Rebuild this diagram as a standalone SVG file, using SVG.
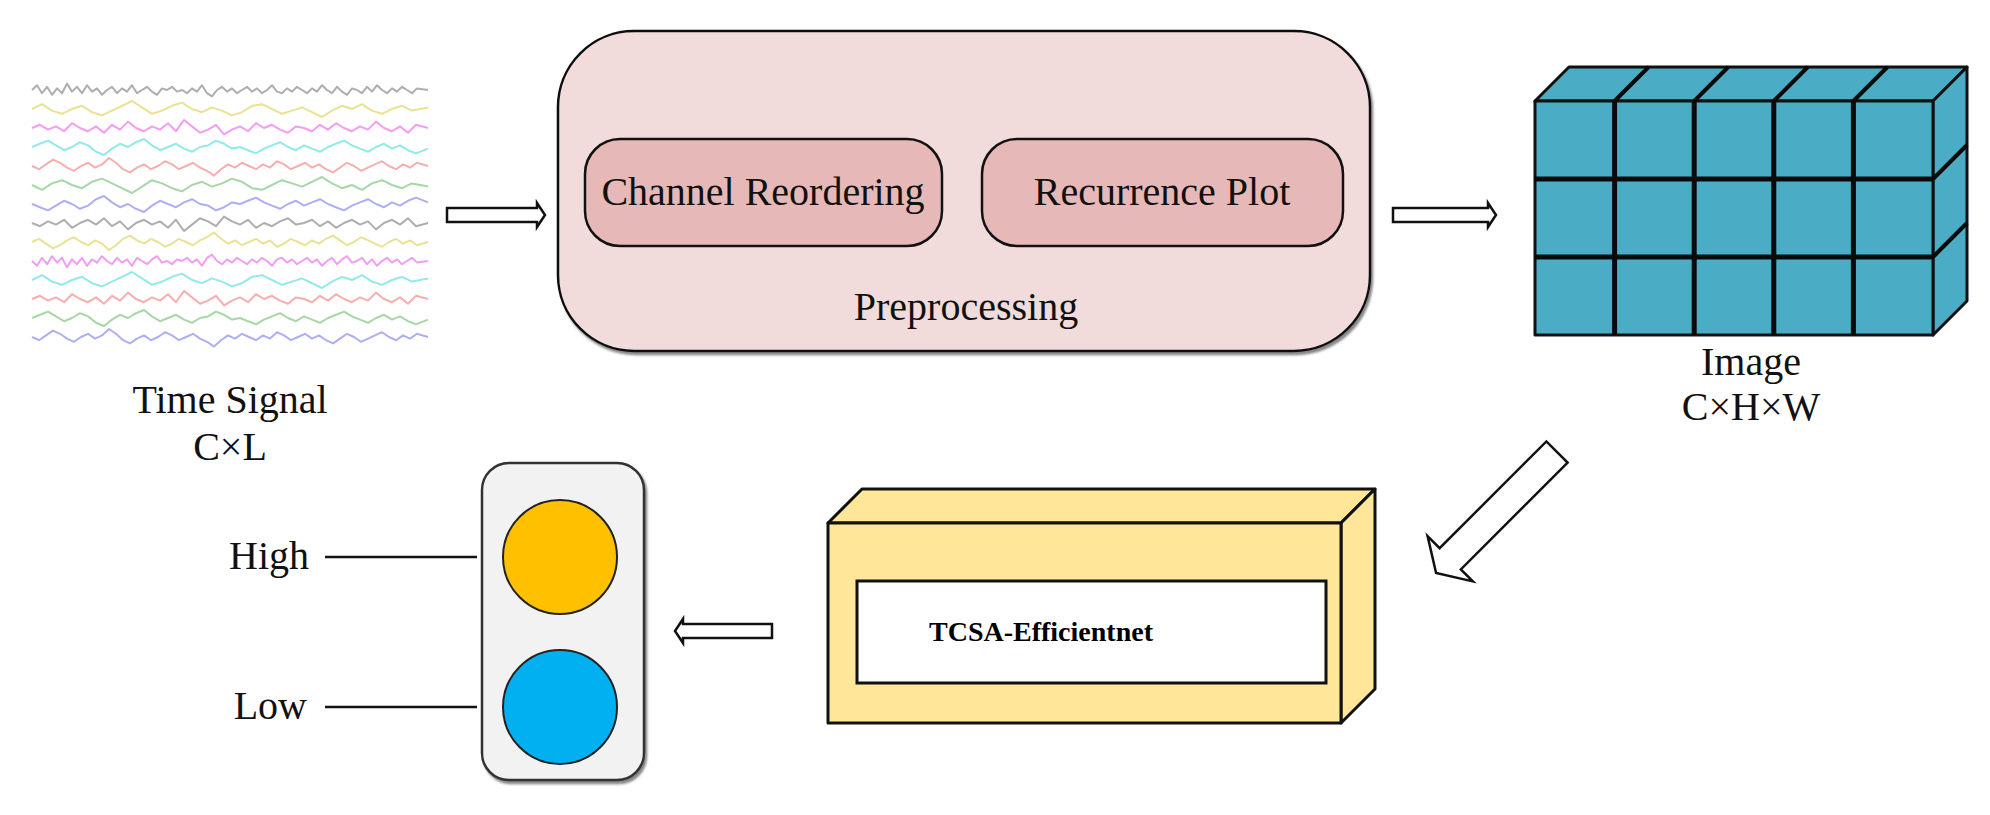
<svg xmlns="http://www.w3.org/2000/svg" xmlns:xlink="http://www.w3.org/1999/xlink" width="1990" height="815" viewBox="0 0 1990 815">
<defs>
<style>
.t{font-family:"Liberation Serif","Times New Roman","DejaVu Serif",serif;font-size:40px;fill:#111;text-anchor:middle}
.tb{font-family:"Liberation Serif","Times New Roman","DejaVu Serif",serif;font-size:28px;font-weight:bold;fill:#000;text-anchor:middle}
.w{fill:none;stroke-width:2;stroke-linejoin:round;opacity:0.85}
.arr{fill:#fff;stroke:#111;stroke-width:2.5;stroke-linejoin:miter}
.cube{fill:#4bacc6;stroke:#111;stroke-width:3;stroke-linejoin:round}
.grid{stroke:#0a0a0a;stroke-width:5}
.gridt{stroke:#0a0a0a;stroke-width:4}
.yb{fill:#ffe699;stroke:#111;stroke-width:3;stroke-linejoin:round}
.ln{stroke:#111;stroke-width:2.5}
</style>
<filter id="sh" x="-5%" y="-5%" width="115%" height="115%">
<feDropShadow dx="2" dy="3" stdDeviation="1.2" flood-color="#555" flood-opacity="0.7"/>
</filter>
<polyline id="w1" vector-effect="non-scaling-stroke" points="0,0 8,-2 16,1 24,-1 32,2 40,-3 48,0 56,2 64,-1 72,3 80,-2 88,1 96,-4 104,0 112,2 120,-1 128,1 136,-3 144,2 152,-5 160,-1 168,3 176,1 184,-2 192,4 200,1 208,-1 216,2 224,-3 232,0 240,-2 248,1 256,3 264,-1 272,0 280,2 288,-2 296,1 304,-3 312,0 320,2 328,-1 336,1 344,-4 352,0 360,2 368,-1 376,3 384,-2 396,0"/>
<polyline id="w2" vector-effect="non-scaling-stroke" points="0,0 10,-3 20,1 30,3 40,0 50,-2 60,2 70,4 80,1 90,-2 100,-5 110,-1 120,3 130,1 140,-2 150,-4 160,0 170,2 180,-1 190,1 200,4 210,2 220,-2 230,-3 240,0 250,3 260,1 270,-1 280,2 290,5 300,1 310,-2 320,0 330,-3 340,1 350,3 360,0 370,-2 380,1 396,-1"/>
<polyline id="w3" vector-effect="non-scaling-stroke" points="0,0 5,-3 10,2 15,-2 20,3 25,-1 30,2 35,-4 40,1 45,-2 50,2 55,-3 60,1 65,-1 70,3 75,0 80,-2 85,2 90,-1 95,1 100,-3 105,2 110,0 115,-2 120,1 125,3 130,-1 135,0 140,-2 145,1 150,0 155,2 160,-1 165,1 170,-3 175,2 180,4 185,0 190,-2 195,1 200,-1 205,2 210,0 215,-2 220,1 225,-1 230,2 235,0 240,-3 245,1 250,2 255,-1 260,1 265,-2 270,0 275,2 280,-1 285,1 290,-3 295,0 300,2 305,-2 310,1 315,3 320,-1 325,0 330,2 335,-2 340,1 345,-3 350,0 355,2 360,-1 365,1 370,-2 375,0 380,2 385,-1 396,0"/>
<polyline id="w4" vector-effect="non-scaling-stroke" points="0,0 8,-2 16,-4 24,-1 32,2 40,0 48,-3 56,-1 64,3 72,5 80,1 88,-2 96,0 104,-3 112,-5 120,-1 128,2 136,0 144,-2 152,1 160,3 168,0 176,-1 184,-4 192,-2 200,1 208,0 216,2 224,4 232,1 240,-1 248,-3 256,0 264,2 272,-1 280,1 288,3 296,0 304,-2 312,-4 320,-1 328,1 336,3 344,0 352,-2 360,1 368,-1 376,2 384,4 396,1"/>
<polyline id="w5" vector-effect="non-scaling-stroke" points="0,0 7,2 14,-1 21,-4 28,-2 35,1 42,3 49,0 56,-2 63,1 70,-1 77,-5 84,-2 91,2 98,4 105,1 112,-1 119,2 126,0 133,-3 140,-1 147,2 154,0 161,-2 168,1 175,3 182,6 189,2 196,-1 203,1 210,-2 217,0 224,2 231,-1 238,1 245,-3 252,-1 259,2 266,0 273,-2 280,1 287,-1 294,2 301,4 308,1 315,-2 322,0 329,3 336,1 343,-1 350,-3 357,0 364,2 371,-1 378,1 385,-2 396,0"/>
</defs>
<rect width="1990" height="815" fill="#fff"/>

<g id="time-signal">
<use xlink:href="#w3" href="#w3" class="w" stroke="#a0a0a0" transform="translate(32,90) scale(1,1.6)"/>
<use xlink:href="#w2" href="#w2" class="w" stroke="#e6dd80" transform="translate(32,109) scale(1,1.6)"/>
<use xlink:href="#w1" href="#w1" class="w" stroke="#f08cf0" transform="translate(32,128) scale(1,1.6)"/>
<use xlink:href="#w4" href="#w4" class="w" stroke="#80e6e6" transform="translate(32,147) scale(1,1.6)"/>
<use xlink:href="#w5" href="#w5" class="w" stroke="#f5a0a0" transform="translate(32,166) scale(1,1.6)"/>
<use xlink:href="#w2" href="#w2" class="w" stroke="#98d098" transform="translate(32,185) scale(1,-1.6)"/>
<use xlink:href="#w4" href="#w4" class="w" stroke="#a0a0f0" transform="translate(32,204) scale(1,-1.6)"/>
<use xlink:href="#w1" href="#w1" class="w" stroke="#a0a0a0" transform="translate(32,223) scale(1,-1.6)"/>
<use xlink:href="#w5" href="#w5" class="w" stroke="#e6dd80" transform="translate(32,242) scale(1,-1.6)"/>
<use xlink:href="#w3" href="#w3" class="w" stroke="#f08cf0" transform="translate(32,261) scale(1,-1.6)"/>
<use xlink:href="#w2" href="#w2" class="w" stroke="#80e6e6" transform="translate(32,280) scale(1,1.6)"/>
<use xlink:href="#w1" href="#w1" class="w" stroke="#f5a0a0" transform="translate(32,299) scale(1,1.6)"/>
<use xlink:href="#w4" href="#w4" class="w" stroke="#98d098" transform="translate(32,318) scale(1,1.6)"/>
<use xlink:href="#w5" href="#w5" class="w" stroke="#a0a0f0" transform="translate(32,337) scale(1,1.6)"/>
<text class="t" x="230" y="413">Time Signal</text>
<text class="t" x="230" y="460">C×L</text>
</g>

<g id="preprocessing">
<rect x="558" y="31" width="812" height="320" rx="76" ry="76" fill="#f2dcdb" stroke="#111" stroke-width="2.5" filter="url(#sh)"/>
<rect x="585" y="139" width="357" height="107" rx="35" ry="35" fill="#e6b9b8" stroke="#111" stroke-width="2.5"/>
<text class="t" x="763" y="205">Channel Reordering</text>
<rect x="982" y="139" width="361" height="107" rx="35" ry="35" fill="#e6b9b8" stroke="#111" stroke-width="2.5"/>
<text class="t" x="1162" y="205">Recurrence Plot</text>
<text class="t" x="966" y="320">Preprocessing</text>
</g>

<g id="image-cube">
<polygon class="cube" points="1535,101 1569,67 1967,67 1933,101"/>
<polygon class="cube" points="1933,101 1967,67 1967,301 1933,335"/>
<rect class="cube" x="1535" y="101" width="398" height="234"/>
<g class="grid">
<line x1="1614.6" y1="101" x2="1614.6" y2="335"/>
<line x1="1694.2" y1="101" x2="1694.2" y2="335"/>
<line x1="1773.8" y1="101" x2="1773.8" y2="335"/>
<line x1="1853.4" y1="101" x2="1853.4" y2="335"/>
<line x1="1535" y1="179" x2="1933" y2="179"/>
<line x1="1535" y1="257" x2="1933" y2="257"/>
</g>
<g class="gridt">
<line x1="1614.6" y1="101" x2="1648.6" y2="67"/>
<line x1="1694.2" y1="101" x2="1728.2" y2="67"/>
<line x1="1773.8" y1="101" x2="1807.8" y2="67"/>
<line x1="1853.4" y1="101" x2="1887.4" y2="67"/>
<line x1="1933" y1="179" x2="1967" y2="145"/>
<line x1="1933" y1="257" x2="1967" y2="223"/>
</g>
<text class="t" x="1751" y="375">Image</text>
<text class="t" x="1751" y="420">C×H×W</text>
</g>

<g id="tcsa-efficientnet">
<polygon class="yb" points="828,523 862,489 1375,489 1341,523"/>
<polygon class="yb" points="1341,523 1375,489 1375,689 1341,723"/>
<rect class="yb" x="828" y="523" width="513" height="200"/>
<rect x="857" y="581" width="469" height="102" fill="#fff" stroke="#111" stroke-width="3"/>
<text class="tb" x="1041" y="641">TCSA-Efficientnet</text>
</g>

<g id="output-light">
<rect x="482" y="463" width="162" height="317" rx="27" ry="27" fill="#f2f2f2" stroke="#333" stroke-width="2.5" filter="url(#sh)"/>
<circle cx="560" cy="557" r="57" fill="#ffc000" stroke="#222" stroke-width="2"/>
<circle cx="560" cy="707" r="57" fill="#00b0f0" stroke="#222" stroke-width="2"/>
<line class="ln" x1="325" y1="557" x2="477" y2="557"/>
<line class="ln" x1="325" y1="707" x2="477" y2="707"/>
<text class="t" x="309" y="569" style="text-anchor:end">High</text>
<text class="t" x="307" y="719" style="text-anchor:end">Low</text>
</g>

<g id="connectors">
<path class="arr" d="M447,208 H537 V203 L545,215 L537,227 V222 H447 Z"/>
<path class="arr" d="M1393,208 H1488 V203 L1496,215 L1488,227 V222 H1393 Z"/>
<path class="arr" d="M772,624 H683 V619 L675,631 L683,643 V638 H772 Z"/>
<path class="arr" transform="translate(1557,452) rotate(135)" d="M0,-15 H151 V-32 L171,0 L151,32 V15 H0 Z"/>
</g>
</svg>
